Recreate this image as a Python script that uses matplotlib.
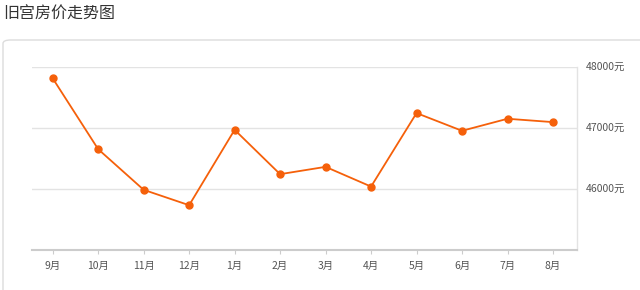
import matplotlib
matplotlib.use("Agg")
import matplotlib.pyplot as plt
from matplotlib.patches import FancyBboxPatch

plt.rcParams['font.family'] = ['Noto Sans CJK SC', 'DejaVu Sans']

# data
months = ["9月", "10月", "11月", "12月", "1月", "2月", "3月", "4月", "5月", "6月", "7月", "8月"]
prices = [47810, 46650, 45985, 45733, 46967, 46241, 46361, 46038, 47241, 46951, 47148, 47093]
yticks = [46000, 47000, 48000]
ytick_labels = ["46000元", "47000元", "48000元"]
title = "旧宫房价走势图"

fig = plt.figure(figsize=(6.4, 2.9), dpi=100)

# card border (runs off the right and bottom edges)
card = FancyBboxPatch((3 / 640, -0.2), 1.2, 1 - 40 / 290 + 0.2,
                      boxstyle="round,pad=0,rounding_size=0.012",
                      transform=fig.transFigure, fill=False,
                      edgecolor="#dcdcdc", linewidth=1.0)
fig.patches.append(card)

fig.text(3 / 640, 1 - 14 / 290, title, fontsize=11.5, color="#333333",
         ha="left", va="center")

ax = fig.add_axes([32 / 640, 1 - 250 / 290, (576.5 - 32) / 640, (250 - 66.7) / 290])
x = list(range(len(months)))
ax.plot(x, prices, color="#f5600a", linewidth=1.3, marker="o",
        markersize=5, zorder=3, clip_on=False)

ax.set_xlim(-0.455, 11.517)
ax.set_ylim(45000, 48000)
ax.set_yticks(yticks)
ax.set_yticklabels(ytick_labels)
ax.set_xticks(x)
ax.set_xticklabels(months)

ax.yaxis.tick_right()
ax.grid(axis="y", color="#e3e3e3", linewidth=1.0)
ax.set_axisbelow(True)

for s in ["left", "top"]:
    ax.spines[s].set_visible(False)
ax.spines["right"].set_color("#e3e3e3")
ax.spines["right"].set_linewidth(1.0)
ax.spines["bottom"].set_color("#cccccc")
ax.spines["bottom"].set_linewidth(1.5)

ax.tick_params(axis="y", length=0, pad=7, labelsize=7.5, labelcolor="#555555")
ax.tick_params(axis="x", length=3, width=0.8, color="#cccccc", pad=5,
               labelsize=7.5, labelcolor="#555555")
for lab in ax.get_yticklabels():
    lab.set_verticalalignment("center")

fig.savefig("out.png", dpi=100)
